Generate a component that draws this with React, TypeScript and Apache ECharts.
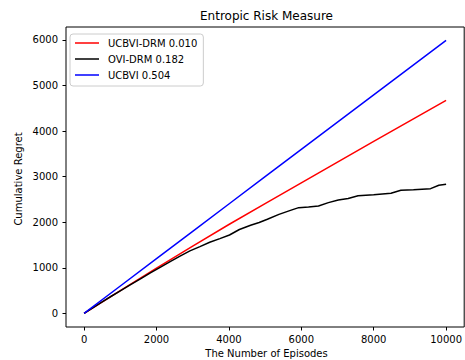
import React, { useEffect, useRef } from "react";
import * as echarts from "echarts";

const coarseEpisodes = [0, 1000, 2000, 3000, 4000, 5000, 6000, 7000, 8000, 9000, 10000];
const ucbviDrm = [0, 497, 990, 1475, 1950, 2410, 2865, 3320, 3775, 4225, 4676];
const ucbvi = [0, 600, 1200, 1800, 2400, 3000, 3597, 4195, 4795, 5395, 5993];

const oviEpisodes = [0, 250, 500, 750, 1000, 1250, 1557, 1831, 2100, 2377, 2650, 2923, 3200, 3470, 3750, 4016, 4290, 4600, 4836, 5063, 5383, 5700, 5929, 6200, 6475, 6749, 7022, 7295, 7568, 8000, 8478, 8751, 9100, 9571, 9800, 10000];
const oviDrm = [0, 125, 250, 375, 495, 615, 755, 890, 1010, 1135, 1255, 1370, 1465, 1560, 1640, 1720, 1840, 1935, 1995, 2064, 2173, 2260, 2320, 2335, 2356, 2430, 2488, 2520, 2580, 2605, 2634, 2700, 2715, 2737, 2810, 2832];

const xTicks = [0, 2000, 4000, 6000, 8000, 10000];
const yTicks = [0, 1000, 2000, 3000, 4000, 5000, 6000];

const seriesNames = ["UCBVI-DRM 0.010", "OVI-DRM 0.182", "UCBVI 0.504"];
const seriesColors = ["#ff0000", "#000000", "#0000ff"];

const FONT = "DejaVu Sans";

export default function App() {
  const ref = useRef<HTMLDivElement>(null);
  useEffect(() => {
    if (!ref.current) return;
    const chart = echarts.init(ref.current, undefined, { renderer: "svg" });
    const zip = (xs: number[], ys: number[]) => xs.map((x, i) => [x, ys[i]]);
    const gridLeft = 66;
    const gridTop = 27;
    const gridW = 401;
    const gridH = 300;
    chart.setOption({
      animation: false,
      backgroundColor: "#ffffff",
      textStyle: { fontFamily: FONT },
      grid: {
        left: gridLeft,
        top: gridTop,
        width: gridW,
        height: gridH,
        show: true,
        borderColor: "#000000",
        borderWidth: 1,
        containLabel: false,
      },
      xAxis: {
        type: "value",
        min: -500,
        max: 10500,
        axisLine: { show: false, onZero: false },
        splitLine: { show: false },
        axisTick: {
          show: true,
          inside: false,
          length: 3.5,
          lineStyle: { color: "#000000", width: 1 },
          customValues: xTicks,
        },
        axisLabel: {
          customValues: xTicks,
          formatter: (v: number) => String(v),
          color: "#000000",
          fontSize: 10,
          fontFamily: FONT,
          margin: 7,
        },
      },
      yAxis: {
        type: "value",
        min: -300,
        max: 6285,
        axisLine: { show: false, onZero: false },
        splitLine: { show: false },
        axisTick: {
          show: true,
          inside: false,
          length: 3.5,
          lineStyle: { color: "#000000", width: 1 },
          customValues: yTicks,
        },
        axisLabel: {
          customValues: yTicks,
          formatter: (v: number) => String(v),
          color: "#000000",
          fontSize: 10,
          fontFamily: FONT,
          margin: 8,
        },
      },
      legend: {
        orient: "vertical",
        left: 70,
        top: 34,
        data: seriesNames,
        icon: "rect",
        itemWidth: 24,
        itemHeight: 1.5,
        itemGap: 4,
        padding: [3, 6, 5, 5],
        backgroundColor: "rgba(255,255,255,0.8)",
        borderColor: "#cccccc",
        borderWidth: 1,
        borderRadius: 3,
        textStyle: {
          fontFamily: FONT,
          fontSize: 10,
          color: "#000000",
          lineHeight: 12,
          padding: [0, 0, 0, 4],
        },
      },
      graphic: [
        {
          type: "text",
          x: gridLeft + gridW / 2,
          y: 16,
          style: {
            text: "Entropic Risk Measure",
            fontFamily: FONT,
            fontSize: 12,
            fill: "#000000",
            align: "center",
            verticalAlign: "middle",
          },
        },
        {
          type: "text",
          x: gridLeft + gridW / 2,
          y: 353,
          style: {
            text: "The Number of Episodes",
            fontFamily: FONT,
            fontSize: 10,
            fill: "#000000",
            align: "center",
            verticalAlign: "middle",
          },
        },
        {
          type: "text",
          x: 18,
          y: 179,
          rotation: Math.PI / 2,
          style: {
            text: "Cumulative Regret",
            fontFamily: FONT,
            fontSize: 10,
            fill: "#000000",
            align: "center",
            verticalAlign: "middle",
          },
        },
      ],
      series: [
        {
          name: seriesNames[0],
          type: "line",
          data: zip(coarseEpisodes, ucbviDrm),
          showSymbol: false,
          symbol: "none",
          lineStyle: { color: seriesColors[0], width: 1.5 },
          itemStyle: { color: seriesColors[0] },
          z: 2,
        },
        {
          name: seriesNames[1],
          type: "line",
          data: zip(oviEpisodes, oviDrm),
          showSymbol: false,
          symbol: "none",
          lineStyle: { color: seriesColors[1], width: 1.5 },
          itemStyle: { color: seriesColors[1] },
          z: 3,
        },
        {
          name: seriesNames[2],
          type: "line",
          data: zip(coarseEpisodes, ucbvi),
          showSymbol: false,
          symbol: "none",
          lineStyle: { color: seriesColors[2], width: 1.5 },
          itemStyle: { color: seriesColors[2] },
          z: 4,
        },
      ],
    });
    return () => chart.dispose();
  }, []);
  return (
    <div
      ref={ref}
      style={{ position: "fixed", left: 0, top: 0, width: 465, height: 360, background: "#fff" }}
    />
  );
}
